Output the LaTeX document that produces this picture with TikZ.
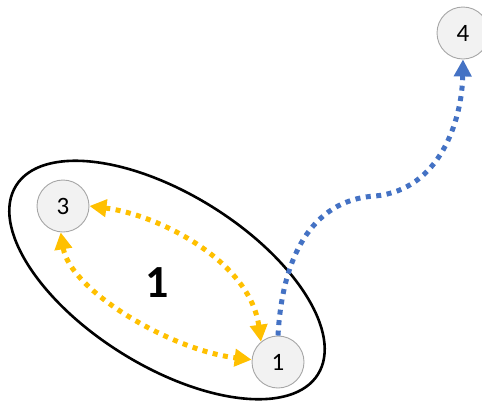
\documentclass[tikz,border=0pt]{standalone}
\usepackage{fontspec}
\setmainfont{Carlito}
\usetikzlibrary{arrows.meta,shapes.geometric}
\definecolor{gold}{HTML}{FFC000}
\definecolor{steel}{HTML}{4472C4}
\definecolor{nodefill}{HTML}{F2F2F2}
\definecolor{nodeline}{HTML}{A6A6A6}
\tikzset{
  vertex/.style={circle, draw=nodeline, fill=nodefill, line width=0.9pt, minimum size=52pt, inner sep=0pt, font=\fontsize{25}{28}\selectfont},
  dotlink/.style={line width=5pt, dash pattern=on 5pt off 5.5pt, line cap=butt},
  goldlink/.style={dotlink, draw=gold, {Triangle[length=17pt,width=17pt,fill=gold]}-{Triangle[length=17pt,width=17pt,fill=gold]}},
  bluelink/.style={dotlink, draw=steel, -{Triangle[length=17pt,width=17pt,fill=steel]}},
  groupring/.style={ellipse, draw=black, line width=2.6pt, minimum width=356pt, minimum height=172pt, inner sep=0pt}
}
\begin{document}
\begin{tikzpicture}[x=1pt,y=-1pt]
\useasboundingbox (0,0) rectangle (482,405);
\node[groupring, rotate=-32] (grp) at (167,280) {};
\node[font=\fontsize{46}{50}\selectfont\bfseries] (lbl) at (157,283) {1};
\node[vertex] (n3) at (63,206) {3};
\node[vertex] (n1) at (278,362) {1};
\node[vertex] (n4) at (463,33) {4};
\draw[goldlink] (n3.east) .. controls (160,215) and (250,262) .. (n1.130);
\draw[goldlink] (n3.265) .. controls (70,290) and (170,350) .. (n1.175);
\draw[bluelink] (n1.north) .. controls (282,260) and (310,200) .. (375,196) .. controls (440,190) and (462,120) .. (n4.south);
\end{tikzpicture}
\end{document}
